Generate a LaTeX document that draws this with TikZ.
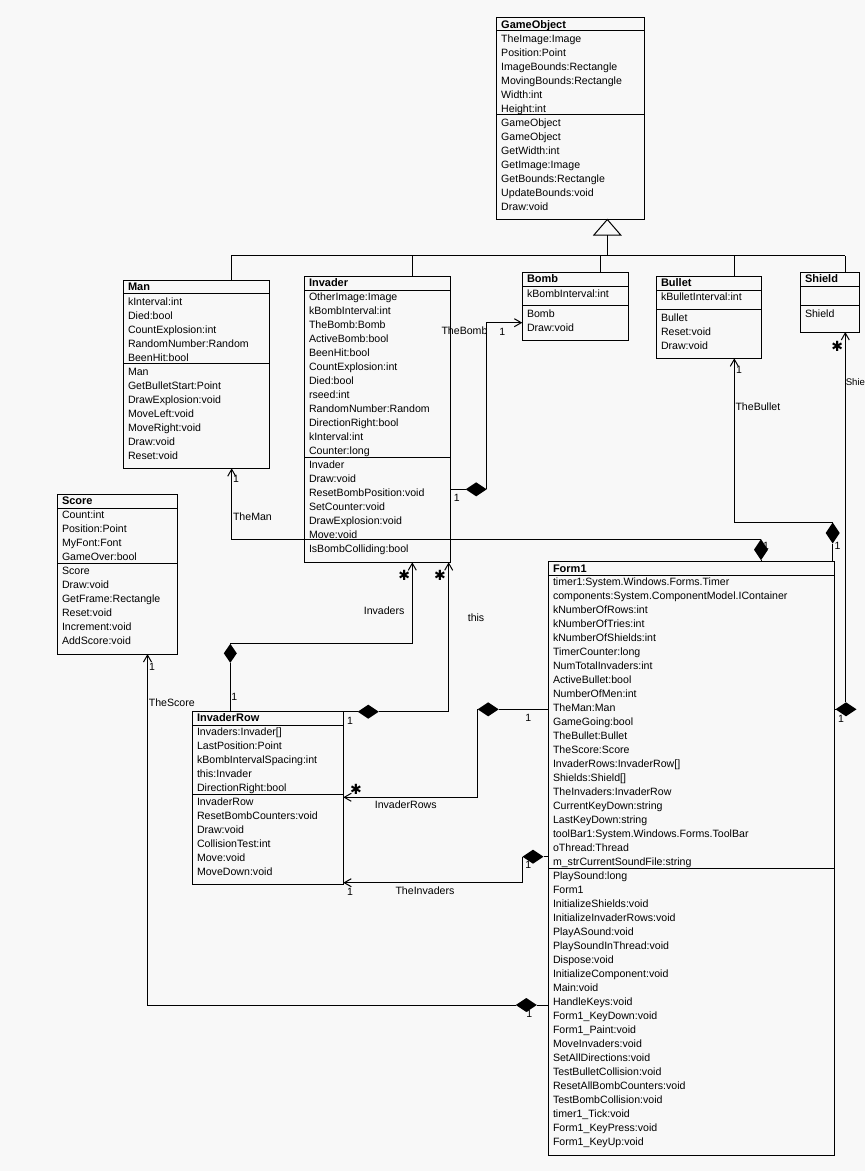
\documentclass[tikz,border=0pt]{standalone}
\usepackage{fontspec}
\setmainfont{Liberation Sans}
\newfontfamily\dejavu{DejaVu Sans}
\usetikzlibrary{arrows.meta,shapes.geometric}
\definecolor{bg}{RGB}{248,248,248}
\newcommand\umlbox[7]{%
  \pgfmathsetmacro\bw{#4-#2}\pgfmathsetmacro\bh{#5-#3}%
  \node[box, anchor=north west, minimum width=\bw pt, minimum height=\bh pt] (#1) at (#2,#3) {};
  \draw (#1.west |- 0,#6) -- (#1.east |- 0,#6);
  \draw (#1.west |- 0,#7) -- (#1.east |- 0,#7);}
\newcommand\umlrows[4]{%
  \foreach \t [count=\i from 0] in {#4}{\node[txt] (#1\i) at (#2,{#3+14*\i}) {\t};}}
\begin{document}
\begin{tikzpicture}[x=1pt,y=-1pt, line width=1pt,
 box/.style={draw, rectangle, inner sep=0pt, outer sep=0pt},
 txt/.style={anchor=base west, inner sep=0pt, font=\fontsize{10.6}{12}\selectfont},
 hdr/.style={anchor=base west, inner sep=0pt, font=\fontsize{11}{12}\selectfont\bfseries},
 lbl/.style={anchor=base west, inner sep=0pt, font=\fontsize{10.6}{12}\selectfont},
 mult/.style={anchor=center, inner sep=0pt, font=\fontsize{10.5}{11}\selectfont},
 star/.style={anchor=center, inner sep=0pt, font=\dejavu\fontsize{14}{14}\selectfont},
 hdia/.style={diamond, fill=black, draw=none, inner sep=0pt, outer sep=0pt, minimum width=21pt, minimum height=14pt},
 vdia/.style={diamond, fill=black, draw=none, inner sep=0pt, outer sep=0pt, minimum width=14pt, minimum height=21pt},
 oarr/.style={-{Straight Barb[length=7pt,width=8pt]}},
]
\fill[bg] (0,0) rectangle (865,1171);
\useasboundingbox (0,0) rectangle (865,1171);

% ---------- classes ----------
\umlbox{go}{496.7}{17.3}{644}{219}{30.7}{114.3}
\node[hdr] (goN) at (500.7,28.3) {GameObject};
\umlrows{goA}{500.7}{42.3}{TheImage:Image,Position:Point,ImageBounds:Rectangle,MovingBounds:Rectangle,Width:int,Height:int}
\umlrows{goM}{500.7}{126.3}{GameObject,GameObject,GetWidth:int,GetImage:Image,GetBounds:Rectangle,UpdateBounds:void,Draw:void}

\umlbox{man}{123.3}{280.7}{269.3}{468.3}{293.3}{363.3}
\node[hdr] (manN) at (127.5,290.7) {Man};
\umlrows{manA}{127.5}{305}{kInterval:int,Died:bool,CountExplosion:int,RandomNumber:Random,BeenHit:bool}
\umlrows{manM}{127.5}{375}{Man,GetBulletStart:Point,DrawExplosion:void,MoveLeft:void,MoveRight:void,Draw:void,Reset:void}

\umlbox{inv}{304.3}{276.7}{450.3}{562.3}{290.7}{457.7}
\node[hdr] (invN) at (308.5,286.7) {Invader};
\umlrows{invA}{308.5}{300.7}{OtherImage:Image,kBombInterval:int,TheBomb:Bomb,ActiveBomb:bool,BeenHit:bool,CountExplosion:int,Died:bool,rseed:int,RandomNumber:Random,DirectionRight:bool,kInterval:int,Counter:long}
\umlrows{invM}{308.5}{468.7}{Invader,Draw:void,ResetBombPosition:void,SetCounter:void,DrawExplosion:void,Move:void,IsBombColliding:bool}

\umlbox{bomb}{522.3}{272.3}{628.3}{340}{286.3}{305.3}
\node[hdr] (bombN) at (526.5,282.3) {Bomb};
\umlrows{bombA}{526.5}{297}{kBombInterval:int}
\umlrows{bombM}{526.5}{317}{Bomb,Draw:void}

\umlbox{bullet}{656.3}{276.3}{761.3}{358.3}{290}{309.3}
\node[hdr] (bulN) at (660.5,286.7) {Bullet};
\umlrows{bulA}{660.5}{300.7}{kBulletInterval:int}
\umlrows{bulM}{660.5}{321}{Bullet,Reset:void,Draw:void}

\umlbox{shield}{800.3}{272.3}{859.3}{332}{286.3}{305.3}
\node[hdr] (shN) at (804.5,282.3) {Shield};
\umlrows{shM}{804.5}{317}{Shield}

\umlbox{score}{57.3}{494.3}{177.3}{654}{508.3}{563.3}
\node[hdr] (scN) at (61.5,504.7) {Score};
\umlrows{scA}{61.5}{518.7}{Count:int,Position:Point,MyFont:Font,GameOver:bool}
\umlrows{scM}{61.5}{574.7}{Score,Draw:void,GetFrame:Rectangle,Reset:void,Increment:void,AddScore:void}

\umlbox{invrow}{192.3}{711.7}{343.3}{884.7}{725.3}{794.3}
\node[hdr] (irN) at (196.5,721.7) {InvaderRow};
\umlrows{irA}{196.5}{735.7}{{Invaders:Invader[]},LastPosition:Point,kBombIntervalSpacing:int,this:Invader,DirectionRight:bool}
\umlrows{irM}{196.5}{805.7}{InvaderRow,ResetBombCounters:void,Draw:void,CollisionTest:int,Move:void,MoveDown:void}

\umlbox{form1}{548}{561}{834.7}{1155.3}{575}{868.3}
\node[hdr] (f1N) at (552.5,572.3) {Form1};
\umlrows{f1A}{552.5}{585.7}{timer1:System.Windows.Forms.Timer,components:System.ComponentModel.IContainer,kNumberOfRows:int,kNumberOfTries:int,kNumberOfShields:int,TimerCounter:long,NumTotalInvaders:int,ActiveBullet:bool,NumberOfMen:int,TheMan:Man,GameGoing:bool,TheBullet:Bullet,TheScore:Score,{InvaderRows:InvaderRow[]},{Shields:Shield[]},TheInvaders:InvaderRow,CurrentKeyDown:string,LastKeyDown:string,toolBar1:System.Windows.Forms.ToolBar,oThread:Thread,m\_strCurrentSoundFile:string}
\umlrows{f1M}{552.5}{879.7}{PlaySound:long,Form1,InitializeShields:void,InitializeInvaderRows:void,PlayASound:void,PlaySoundInThread:void,Dispose:void,InitializeComponent:void,Main:void,HandleKeys:void,Form1\_KeyDown:void,Form1\_Paint:void,MoveInvaders:void,SetAllDirections:void,TestBulletCollision:void,ResetAllBombCounters:void,TestBombCollision:void,timer1\_Tick:void,Form1\_KeyPress:void,Form1\_KeyUp:void}

% ---------- inheritance ----------
\coordinate (barL) at (231,255.7);
\coordinate (barR) at (845,255.7);
\coordinate (jInv) at (412,255.7);
\coordinate (jBomb) at (600.7,255.7);
\coordinate (jBul) at (734.3,255.7);
\coordinate (triApex) at (607.3,219.5);
\coordinate (triBase) at (607.3,235);
\draw (barL) -- (barR);
\draw (man.north -| barL) -- (barL);
\draw (inv.north -| jInv) -- (jInv);
\draw (bomb.north -| jBomb) -- (jBomb);
\draw (bullet.north -| jBul) -- (jBul);
\draw (shield.north -| barR) -- (barR);
\draw[fill=bg] (triApex) -- ++(13.4,15.5) -- ++(-26.8,0) -- cycle;
\draw (triBase) -- (triBase |- barL);

% ---------- TheMan ----------
\node[vdia] (dMan) at (761,549.7) {};
\coordinate (bMan) at (231.7,539.3);
\draw (form1.north -| dMan) -- (dMan.south);
\draw[oarr] (dMan.north) -- (dMan.north -| bMan) -- (man.south -| bMan);
\node[lbl] (lMan) at (232.5,520.7) {TheMan};
\node[mult] (mMan1) at (236,479) {1};
\node[mult] (mMan2) at (766,546) {1};

% ---------- TheBullet ----------
\node[vdia] (dBul) at (832.7,533) {};
\draw (form1.north -| dBul) -- (dBul.south);
\draw[oarr] (dBul.north) -- (dBul.north -| jBul) -- (bullet.south -| jBul);
\node[lbl] (lBul) at (735,410.7) {TheBullet};
\node[mult] (mBul1) at (739,370) {1};
\node[mult] (mBul2) at (837.5,546) {1};

% ---------- Shields ----------
\node[hdia] (dSh) at (846,709.3) {};
\coordinate (bSh) at (845.3,709.3);
\draw (form1.east |- dSh) -- (dSh.west);
\draw[oarr] (dSh.north -| bSh) -- (shield.south -| bSh);
\node[lbl, font=\fontsize{9.6}{12}\selectfont] (lSh) at (845.3,385) {Shie};
\node[star] (sSh) at (837.3,346) {✱};
\node[mult] (mSh) at (841,719) {1};

% ---------- TheScore ----------
\node[hdia] (dSc) at (526.3,1005) {};
\coordinate (bSc) at (147.5,1005);
\draw (form1.west |- dSc) -- (dSc.east);
\draw[oarr] (dSc.west) -- (bSc) -- (score.south -| bSc);
\node[lbl] (lSc) at (148.3,706.7) {TheScore};
\node[mult] (mSc1) at (152,667) {1};
\node[mult] (mSc2) at (529.3,1014) {1};

% ---------- TheInvaders ----------
\node[hdia] (dTI) at (533,856.7) {};
\coordinate (bTI) at (522.7,882.7);
\draw (form1.west |- dTI) -- (dTI.east);
\draw[oarr] (dTI.west) |- (invrow.east |- bTI);
\node[lbl] (lTI) at (395,894.3) {TheInvaders};
\node[mult] (mTI1) at (528.3,865) {1};
\node[mult] (mTI2) at (350,891.7) {1};

% ---------- InvaderRows ----------
\node[hdia] (dIR) at (488.2,709.3) {};
\coordinate (bIR) at (478,797.3);
\draw (form1.west |- dIR) -- (dIR.east);
\draw[oarr] (dIR.west) |- (invrow.east |- bIR);
\node[lbl] (lIR) at (374.3,808.3) {InvaderRows};
\node[star] (sIR) at (356,789) {✱};
\node[mult] (mIR) at (528.3,718.3) {1};

% ---------- this ----------
\node[hdia] (dThis) at (368.3,711.7) {};
\coordinate (bThis) at (448.7,711.7);
\draw (invrow.north east) -- (dThis.west);
\draw[oarr] (dThis.east) -- (bThis) -- (inv.south -| bThis);
\node[lbl] (lThis) at (467.3,621) {this};
\node[star] (sThis) at (440,575) {✱};
\node[mult] (mThis) at (350,720.7) {1};

% ---------- Invaders ----------
\node[vdia, minimum width=13pt, minimum height=19pt] (dInv) at (230.3,653.3) {};
\coordinate (bInv) at (412.3,643.3);
\draw (invrow.north -| dInv) -- (dInv.south);
\draw[oarr] (dInv.north) -- (dInv.north -| bInv) -- (inv.south -| bInv);
\node[lbl] (lInv) at (363.3,614.3) {Invaders};
\node[star] (sInv) at (404.3,575) {✱};
\node[mult] (mInv) at (234.3,696.7) {1};

% ---------- TheBomb ----------
\node[hdia] (dBomb) at (476.2,489.3) {};
\coordinate (bBomb) at (486.7,322.7);
\draw (inv.east |- dBomb) -- (dBomb.west);
\draw[oarr] (dBomb.east) |- (bomb.west |- bBomb);
\node[lbl] (lBomb) at (441,334) {TheBomb};
\node[mult] (mBomb1) at (502.3,332.3) {1};
\node[mult] (mBomb2) at (456.7,498.3) {1};
\end{tikzpicture}
\end{document}
